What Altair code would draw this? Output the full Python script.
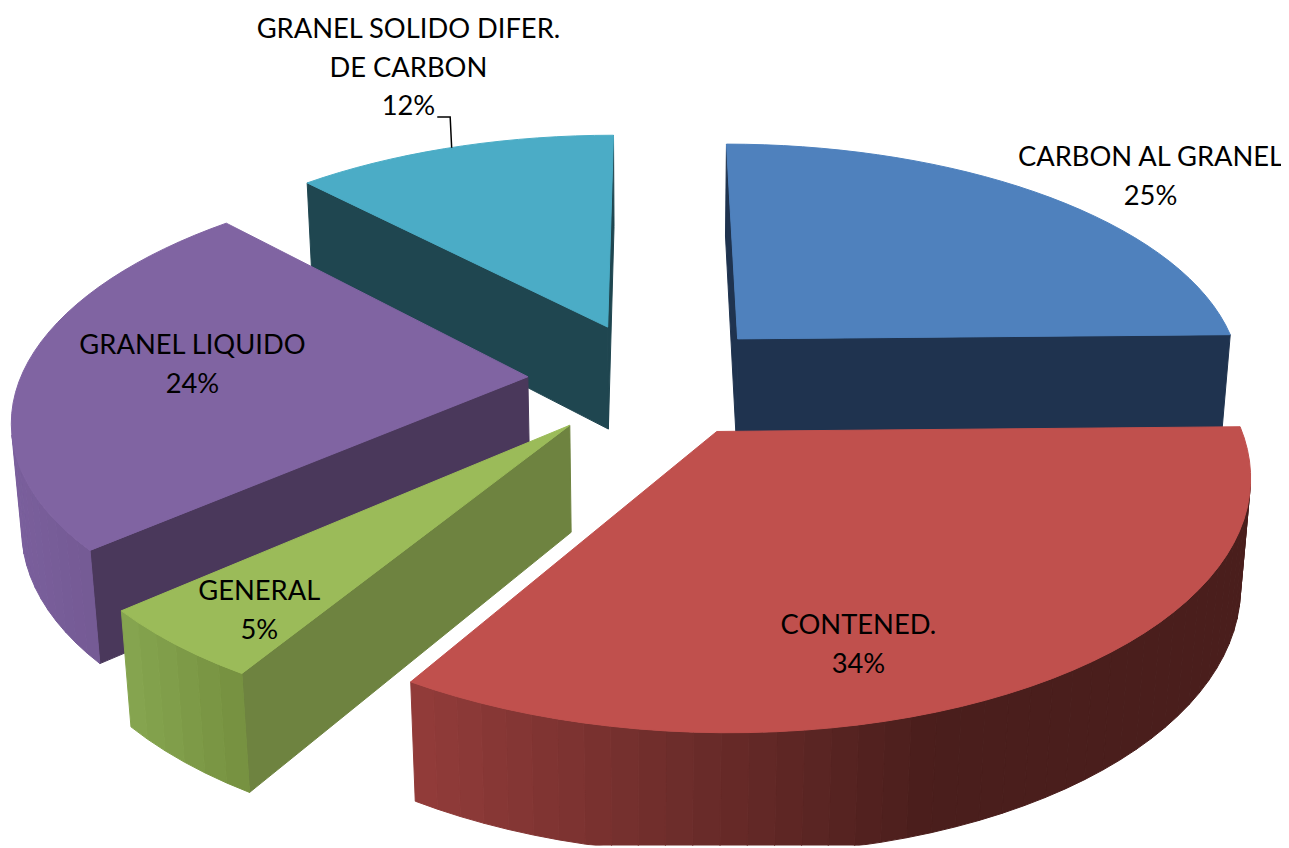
import math
import altair as alt
import pandas as pd

# ---- chart values ----
categories = ["CARBON AL GRANEL", "CONTENED.", "GENERAL", "GRANEL LIQUIDO", "GRANEL SOLIDO DIFER.\nDE CARBON"]
shares = [24.7, 34.0, 4.8, 24.4, 12.1]
labels_pct = ["25%", "34%", "5%", "24%", "12%"]

# ---- styling ----
top_colors = ["#4F81BD", "#C0504D", "#9BBB59", "#8064A2", "#4BACC6"]
side_colors = ["#1F334F", "#4D1F1D", "#6E8340", "#4A385B", "#1F4650"]
rim_left = ["#1F334F", "#933C3A", "#86A650", "#7A5F9C", "#3E95AE"]
rim_right = ["#1F334F", "#4A1E1C", "#75903F", "#6A5288", "#3E95AE"]
draw_order = [4, 0, 3, 2, 1]
label_offset = [(415.5, -181.5), (142.5, 196), (-312.5, 168), (-337.5, -30.5), (-200.5, -299)]

# ---- 3D view model ----
CX, CY, BX, AY, K, EXPLODE, HEIGHT, DEPTH_K = 656.5, 379, 511, 238, 0.155, 0.246, 107, 0.016


def project(X, Y, lower=False):
    w = 1 + K * Y + (DEPTH_K if lower else 0)
    return CX + BX * X / w, CY + (-AY * Y + (HEIGHT if lower else 0)) / w


def hex_mix(a, b, t):
    pa = [int(a[i:i + 2], 16) for i in (1, 3, 5)]
    pb = [int(b[i:i + 2], 16) for i in (1, 3, 5)]
    return "#%02x%02x%02x" % tuple(round(p + (q - p) * t) for p, q in zip(pa, pb))


def shoelace(pts):
    return sum(pts[i][0] * pts[(i + 1) % len(pts)][1] - pts[(i + 1) % len(pts)][0] * pts[i][1] for i in range(len(pts)))


rows = []
pid = 0


def add_poly(pts, color):
    global pid
    for i, (x, y) in enumerate(pts + pts[:1]):
        rows.append({"x": x, "y": y, "pid": f"p{pid:04d}", "i": i, "color": color})
    pid += 1


apex_screen = []
bounds = []
cum = 0.0
total = sum(shares)
for v in shares:
    bounds.append((cum / total * 2 * math.pi, (cum + v) / total * 2 * math.pi))
    cum += v

geom = {}
for s, (a0, a1) in enumerate(bounds):
    mid = (a0 + a1) / 2
    ox, oy = EXPLODE * math.sin(mid), EXPLODE * math.cos(mid)
    n = max(4, int(math.degrees(a1 - a0) / 2.5))
    ring = [(ox, oy)] + [
        (ox + math.sin(a0 + (a1 - a0) * j / n), oy + math.cos(a0 + (a1 - a0) * j / n)) for j in range(n + 1)
    ]
    geom[s] = ring
    apex_screen.append(project(ox, oy))

for s in draw_order:
    ring = geom[s]
    upper = [project(*p) for p in ring]
    lower = [project(*p, lower=True) for p in ring]
    m = len(ring)
    for j in range(m):
        k = (j + 1) % m
        quad = [upper[j], upper[k], lower[k], lower[j]]
        if shoelace(quad) < 0:
            radial = j == 0 or k == 0
            if radial:
                col = side_colors[s]
            else:
                xs = [p[0] for p in upper[1:]]
                t = ((upper[j][0] + upper[k][0]) / 2 - min(xs)) / (max(xs) - min(xs) + 1e-9)
                if s == 1:
                    t = min(1.0, t / 0.62)
                col = hex_mix(rim_left[s], rim_right[s], t)
            add_poly(quad, col)
    add_poly(upper, top_colors[s])

df = pd.DataFrame(rows)

x_scale = alt.Scale(domain=[8, 1289], nice=False, zero=False)
y_scale = alt.Scale(domain=[848, 8], nice=False, zero=False)

faces = alt.Chart(df).mark_line(clip=True, strokeWidth=1, strokeJoin="round", interpolate="linear").encode(
    x=alt.X("x:Q", scale=x_scale, axis=None),
    y=alt.Y("y:Q", scale=y_scale, axis=None),
    detail="pid:N",
    order="i:Q",
    fill=alt.Fill("color:N", scale=None, legend=None),
    stroke=alt.Stroke("color:N", scale=None, legend=None),
)

label_rows = []
for s in range(len(categories)):
    label_rows.append({
        "x": apex_screen[s][0] + label_offset[s][0],
        "y": apex_screen[s][1] + label_offset[s][1],
        "t": categories[s] + "\n" + labels_pct[s],
    })

texts = alt.Chart(pd.DataFrame(label_rows)).mark_text(
    font="Lato", fontSize=27.5, color="#000000", align="center", baseline="middle", lineBreak="\n", lineHeight=39
).encode(
    x=alt.X("x:Q", scale=x_scale, axis=None),
    y=alt.Y("y:Q", scale=y_scale, axis=None),
    text="t:N",
)

tx, ty = apex_screen[4]
leader_offsets = [(-171.5, -211.5), (-158.5, -211.5), (-157, -180.5)]
leader = alt.Chart(pd.DataFrame([
    {"x": tx + dx, "y": ty + dy, "i": i} for i, (dx, dy) in enumerate(leader_offsets)
])).mark_line(color="#000000", strokeWidth=1.5).encode(
    x=alt.X("x:Q", scale=x_scale, axis=None),
    y=alt.Y("y:Q", scale=y_scale, axis=None),
    order="i:Q",
)

chart = alt.layer(faces, leader, texts).properties(
    width=1281, height=840, padding=0, autosize=alt.AutoSizeParams(type="none")
).configure_view(stroke=None)

chart.save("out.html", embed_options={"renderer": "svg", "actions": False})
